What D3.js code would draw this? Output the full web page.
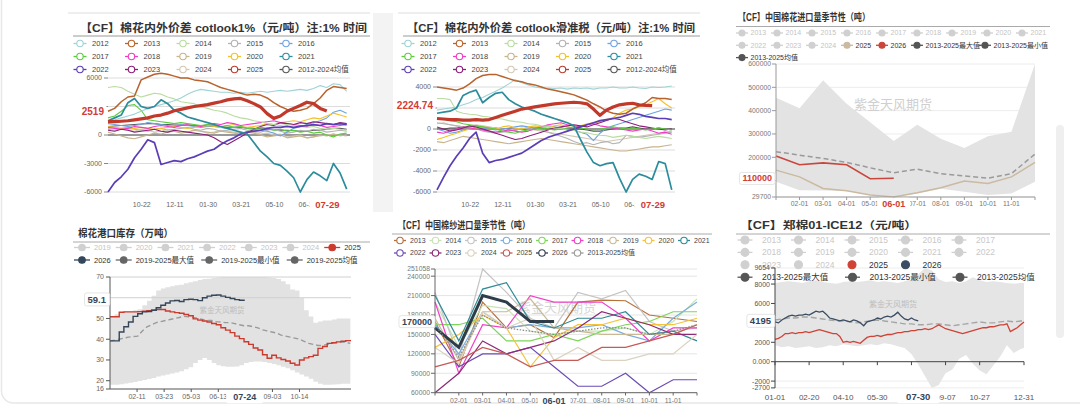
<!DOCTYPE html>
<html>
<head>
<meta charset="utf-8">
<script src="https://cdn.jsdelivr.net/npm/d3@7"></script>
<style>
  body { margin: 0; background: #fff; }
  svg text { font-family: "Liberation Sans", "Noto Sans CJK SC", sans-serif; }
</style>
</head>
<body>
<svg id="chart" width="1080" height="406"></svg>
<script>
// ---------- data: cotton spread (cotlook 1%), cotton year from 09-01 ----------
const spreadDays = [0,10,20,30,40,50,60,70,80,90,100,110,120,130,140,150,160,170,180,190,200,210,220,230,240,250,260,270,280,290,300,310,320,330,340,350,360];
const spreadTickDays = [51,101,151,201,251,301];
const spreadTickLabels = ['10-22','12-11','01-30','03-21','05-10','06-29'];
const spreadLastDay = 331;
const spreadLastLabel = '07-29';
const spreadNames = ['2012','2013','2014','2015','2016','2017','2018','2019','2020','2021','2022','2023','2024','2025','2012-2024均值'];

const a2012 = [1500,1600,1800,2000,2200,2500,2800,3000,3200,3400,3600,3900,4300,4600,4800,4700,4600,4500,4500,4400,4500,4400,4500,4600,4500,4600,4700,4600,4700,4800,4700,4900,5200,5000,5400,5300,4600];
const a2013 = [2500,2800,3500,4000,4100,5800,6100,6400,6500,6400,6200,6000,6000,5800,5700,5600,5300,5000,4800,4600,4400,4200,4300,4200,3900,3400,3000,2700,2500,2600,2800,3300,3900,4700,5100,5000,4900];
const a2014 = [5000,5100,5000,4600,4300,4000,4200,4400,4300,4000,3800,3500,3400,3300,3000,2800,2600,2500,2300,2000,1800,1700,1500,1400,1200,1100,1000,1100,1000,900,800,900,700,600,700,600,500];
const a2015 = [600,500,700,800,600,500,400,600,700,500,600,700,800,600,500,700,600,400,500,600,700,500,400,300,500,600,400,200,300,500,400,600,500,300,400,500,400];
const a2016 = [1200,1100,1000,900,1000,1100,1300,1200,1100,1000,900,1100,1000,900,800,900,1000,800,700,800,900,700,600,500,400,200,-100,300,700,900,1100,1300,1500,1800,2400,2600,2300];
const a2017 = [1800,2000,2500,3100,3200,2600,1600,1500,1400,1300,1200,1300,1200,1100,1000,1100,1000,900,1000,800,900,700,600,800,700,500,600,400,500,300,400,200,300,0,-200,100,200];
const a2018 = [800,700,600,700,900,800,700,900,1000,900,800,1000,1100,1000,900,1100,1200,1100,1300,1200,1000,1100,1200,1300,1400,1500,1300,1200,1100,1000,900,1100,1000,800,900,1000,1100];
const a2019 = [300,100,-100,-300,-400,-200,0,200,100,300,400,200,300,500,400,300,200,400,300,200,100,300,200,0,-200,-100,0,-300,-200,-100,-300,-200,0,-100,100,0,-100];
const a2020 = [900,800,700,600,700,800,700,600,700,800,900,800,700,800,900,1000,900,800,1000,1100,900,800,900,1000,1200,1100,1300,1400,1500,1400,1600,1800,1700,2000,2300,2100,1900];
const a2021 = [1500,1800,2100,3400,3850,3000,2800,3000,3700,3300,2600,2300,1900,1700,1500,1300,1100,900,700,500,300,100,-800,-1700,-2300,-3000,-3200,-3800,-4500,-6000,-4700,-3900,-4300,-4800,-3000,-4000,-5700];
const a2022 = [-6000,-5000,-4400,-3600,-2400,-1500,-500,-800,-3100,-2900,-2700,-2800,-2500,-2300,-2000,-1700,-1500,-1000,-600,-300,100,300,400,500,700,800,800,900,800,900,1000,1100,1000,1200,1100,1200,1100];
const a2023 = [500,400,600,500,300,400,500,600,400,300,500,400,300,200,100,0,-300,-700,-1000,-600,-200,200,600,900,1100,1000,1300,1200,1100,1300,1200,1400,1300,1200,1100,1300,1200];
const a2024 = [700,800,600,500,400,600,500,300,400,600,500,400,300,500,400,200,300,500,400,300,200,400,300,100,200,0,100,-200,-100,0,-300,-200,-100,0,100,-100,0];
const a2025 = [1400,1400,1450,1500,1600,1700,1800,2000,2100,2300,2550,2700,2850,3000,3100,3200,3350,3500,3700,3800,3850,3600,3300,2950,2250,1750,2000,2500,2800,3100,3450,3300,2800,2519];
const aMean = [900,950,1000,1050,1100,1150,1200,1200,1100,1100,1050,1050,1000,1000,950,950,900,850,800,800,800,750,700,650,600,550,500,500,450,400,400,500,500,600,700,700,600];
const aTicks = [-6000,-3000,0,3000,6000];
const aLast = 2519;

// ---------- data: cotton spread (cotlook, sliding tariff) ----------
const b2012 = [1800,1900,2000,2100,2300,2500,2800,3000,3300,3600,3900,4300,4700,4400,4200,4000,3900,3900,3850,3900,3800,3900,3850,3900,3800,3900,3900,4000,3900,3900,4000,3900,3850,4000,3950,4000,4100];
const b2013 = [4000,3900,3800,3700,3900,4300,4800,5100,5200,5200,5000,4800,4600,4500,4300,4200,4000,3800,3700,3550,3400,3250,3000,2750,2400,2100,1700,1500,1400,1500,1900,2200,2500,3000,2900,2900,2800];
const b2014 = [2900,2900,2800,1700,1500,1400,1350,1200,1150,1000,950,800,700,650,500,450,300,250,100,50,-100,-150,-300,-350,-500,-600,-650,-800,-700,-600,-700,-800,-900,-800,-700,-800,-900];
const b2015 = [600,500,400,300,200,100,0,-200,-300,-400,-300,-200,-100,0,100,0,-100,-300,-500,-700,-900,-1200,-1400,-1300,-1500,-1300,-1200,-1400,-1300,-600,-700,-800,-700,-600,-500,-400,-300];
const b2016 = [0,-200,-400,-300,-100,0,200,100,0,-100,0,100,200,300,200,100,200,300,200,100,0,-100,-300,-500,-1100,-400,100,300,500,700,900,1100,1300,1500,1700,1900,1800];
const b2017 = [900,1000,800,700,500,400,300,200,100,0,-200,-300,-400,-200,-100,0,100,0,-100,0,100,200,100,0,-100,0,100,200,100,0,100,0,-100,0,100,0,-100];
const b2018 = [-300,-400,-200,0,200,100,0,-100,-200,-300,-200,-100,-200,-300,-200,0,200,400,500,600,400,300,200,400,500,300,200,100,0,-100,-200,-100,0,-200,-400,-300,-500];
const b2019 = [-1200,-1300,-1100,-900,-700,-800,-900,-1000,-1100,-1200,-1300,-1400,-1300,-1200,-1100,-1000,-900,-1000,-1100,-1200,-1300,-1400,-1500,-1600,-1700,-1800,-1900,-2000,-2100,-2100,-2000,-1900,-1800,-1700,-1700,-1600,-1500];
const b2020 = [-1000,-800,-600,-400,-200,0,100,200,100,0,200,300,100,0,200,300,200,100,300,400,200,100,300,500,600,700,900,1100,1500,1800,1900,2100,2300,2600,2900,2400,2000];
const b2021 = [1500,1600,1700,2000,3200,3500,3700,2500,3000,3400,3500,2800,2400,2100,1900,1700,1400,1200,1000,800,600,300,-1000,-2200,-3200,-3500,-3300,-3200,-4700,-6000,-4800,-4300,-4500,-4800,-3100,-3300,-5800];
const b2022 = [-5800,-4600,-3500,-2600,-1800,-900,-300,-2300,-3200,-3000,-2900,-2700,-2500,-2300,-1900,-1500,-1100,-800,-600,-400,-200,0,200,400,600,800,900,1000,1100,1300,1500,1400,1200,1100,1000,1000,900];
const b2023 = [200,0,-200,-100,100,300,200,0,-200,-400,-600,-800,-1000,-900,-700,-500,-300,-100,100,200,300,400,300,200,400,600,800,1000,900,700,500,300,200,100,0,-100,0];
const b2024 = [500,600,400,300,200,300,400,300,200,100,0,-100,0,100,0,-100,-200,-300,-400,-500,-600,-700,-800,-900,-1000,-1100,-1200,-1100,-1000,-900,-800,-700,-600,-500,-400,-300,-200];
const b2025 = [1000,950,900,900,850,850,900,850,900,1100,1300,1500,1700,1900,2000,2100,2200,2300,2400,2450,2500,2550,2500,2400,1900,1300,1800,2100,2300,2400,2450,2300,2250,2224.74];
const bMean = [0,0,100,100,200,200,300,200,100,100,0,0,-100,0,0,100,100,0,0,100,0,0,0,-100,-200,-200,-100,0,100,100,200,100,0,0,100,0,0];
const bTicks = [-6000,-4000,-2000,0,2000,4000];
const bLast = 2224.74;

// ---------- data: cotton imports by month (t) ----------
const importMonths = ['01-01','02-01','03-01','04-01','05-01','06-01','07-01','08-01','09-01','10-01','11-01','12-01'];
const importMax = [455000,410000,530000,430000,350000,270000,340000,280000,240000,290000,310000,600000];
const importMin = [95000,59000,58000,55000,38000,29700,45000,65000,52000,38000,45000,95000];
const importMean = [224000,209000,195000,178000,155000,133000,149000,130000,120000,110000,130000,214000];
const import2025 = [145000,116000,66000,56000,38000,29700,48000,69000,98000,88000,116000,178000];
const import2026 = [206000,168000,176000,168000,108000,110000];
const importTicks = [29700,100000,200000,300000,400000,500000,600000];
const importLast = 110000;

// ---------- data: port cotton stocks (10k t), weekly ----------
const port2025 = [50.8,50.8,53,53.2,53.2,53.2,53.3,53.5,53.8,54,54.3,54.3,53.6,53.2,52.8,52.5,51.9,51.3,49.8,49.2,48.8,48.3,47.6,47,45.5,44.4,43.2,41.5,40.3,38.8,37.5,35.8,34.8,32.5,30.8,32.3,31,30.2,29.5,28.4,27.6,30,31,31.6,32.3,35.6,36.5,38,38.3,38.7,39,39.3,39.6];
const port2026 = [39.2,39.2,43.5,46,48.3,51,52.3,53.2,53.4,54,55.2,56.4,57.5,58.5,58.7,58.2,59.1,59.3,59.1,58.6,60,60.8,61.2,61.3,60.8,60.2,59.6,59.1,58.8,59.1];
const portMax = [51,52,53.2,53.5,53.5,54,54.5,56.4,58.5,61,63.5,64.5,65,65.5,66,66.3,67,67.5,68,68.5,69,69.2,69.5,69.8,70,70,70,70,70,70,70,70,70,70,69.8,69.5,69,68,66.5,64,63.5,60,54,51,48,48.5,49,49,49.5,50,50,50,50];
const portMin = [18,18,18.3,18.6,19,19.4,19.8,20.3,20.8,21.3,22,22.5,23,23.5,24,24.5,25.5,26.5,28.5,30,31,30,28.5,27.5,27,26.7,26.7,26.8,27.5,28.5,29,29.3,29.2,29,28.5,28,27.5,26.7,26,25,24,23,22,21,19.5,18.5,18,18,18.2,18.3,18.5,18.5,18.5];
const portMean = [39.2,39.5,40,40.5,41,41.3,41.5,44,46,47,48,48.5,49,49.5,50,50.5,51,50.8,50.5,50,49.5,49,49,48.5,48.3,48,48,47.5,47,46.5,46.5,46,45.5,44.5,44,43.5,43,42,41.5,41,40.5,40,39,38,37.5,37,37,37.5,38,38.5,38.7,38.5,38];
const portTicks = [16,20,30,40,50,60,70];
const portTickDays = [41,82,123,164,246,287];
const portTickLabels = ['02-11','03-23','05-03','06-13','09-03','10-14'];
const portLastDay = 204;
const portLastLabel = '07-24';
const portLast = 59.1;

// ---------- data: cotton yarn imports by month (t) ----------
const yarnNames = ['2013','2014','2015','2016','2017','2018','2019','2020','2021','2022','2023','2024','2025','2026','2013-2025均值'];
const y2013 = [170000,100000,200000,160000,165000,145000,200000,203000,202000,180000,175000,170000];
const y2014 = [200000,130000,195000,190000,155000,150000,155000,155000,160000,150000,170000,205000];
const y2015 = [215000,115000,251058,215000,175000,160000,215000,205000,218000,170000,155000,160000];
const y2016 = [165000,120000,185000,160000,165000,160000,160000,165000,150000,140000,175000,200000];
const y2017 = [165000,165000,175000,140000,140000,150000,140000,155000,165000,170000,185000,185000];
const y2018 = [200000,90000,165000,160000,210000,200000,200000,200000,175000,140000,160000,160000];
const y2019 = [175000,110000,185000,185000,205000,160000,155000,150000,150000,150000,150000,165000];
const y2020 = [130000,150000,180000,160000,100000,145000,165000,165000,175000,165000,165000,175000];
const y2021 = [210000,140000,220000,230000,170000,160000,175000,175000,185000,150000,155000,140000];
const y2022 = [150000,100000,120000,120000,130000,100000,70000,70000,90000,60000,80000,80000];
const y2023 = [60000,90000,140000,120000,130000,140000,160000,185000,175000,165000,150000,150000];
const y2024 = [130000,105000,185000,160000,175000,110000,130000,110000,110000,120000,120000,150000];
const y2025 = [100000,110000,130000,120000,100000,110000,110000,130000,130000,140000,150000,165000];
const y2026 = [160000,130000,210000,200000,170000,170000];
const yMean = [165000,115000,180000,160000,155000,150000,155000,160000,160000,150000,155000,165000];
const yarnTicks = [60000,90000,120000,150000,180000,210000,240000,251058];
const yarnLast = 170000;

// ---------- data: ZCE01 - ICE12 spread (yuan/t) ----------
const zm2026 = [4100,4000,4300,4500,4700,4800,4700,4800,4800,4900,4800,5000,5200,5100,5200,4900,4500,4400,4300,4200,4300,4200,4100,4300,4200,4000,3700,4100,4200,4300,4500,4400,4600,4700,4600,4800,5100,4700,4400,4300,4500,4300,4195];
const zm2025 = [2300,2400,2600,2900,2900,3000,2900,3000,3000,3100,3000,3100,3200,3300,3200,3100,3000,2900,2900,2600,2000,2100,2000,2100,2000,1900,2200,2500,2600,2600,2700,2600,2700,2800,2800,2900,3000,3000,3100,3100,3200,3200,3300,3300,3400,3300,3400,3600,3800,3600,3400,3300,3200,3100,3000,2900,3000,3100,3200,3300,3400,3500,3500,3600,3600,3700,3800,3800,3900,3100,3300,3500,3800,4100];
const zmMax = [8100,8200,8300,8200,8100,8300,8400,8200,8100,8000,8200,8300,8200,8300,8400,8200,8300,8200,8100,8300,8500,9000,9654,9400,8500,8200,8300,8100,8300,8700,8400,8200,8300,8200,8100,8000,8100,8100];
const zmMin = [1700,1500,1600,1400,1500,1600,1400,1500,1700,1600,1800,1700,1600,1700,1800,1700,1900,1800,1600,1400,800,-300,-1500,-2700,-2400,-1200,-800,300,700,-200,-900,-1300,-400,500,1700,900,1300,1400];
const zmMean = [4300,4400,4500,4500,4600,4600,4500,4400,4300,4200,4200,4100,4000,4100,4200,4300,4200,4100,4000,3900,3900,3800,3800,3900,3900,3800,3700,3800,3900,4000,4100,4000,4000,4100,4200,4100,4200,4200];
const zmTicks = [-2700,-2000,0,2000,4000,6000,8000,9654];
const zmTickText = ['-2700','-2000','0.000','2000','4000','6000','8000','9654'];
const zmTickDays = [0,50,100,150,200,250,300,365];
const zmTickLabels = ['01-01','02-20','04-10','05-30','07-19','09-07','10-27','12-31'];
const zmLastDay = 210;
const zmLastLabel = '07-30';
const zmLast = 4195;

// ---------- helpers ----------
const svg = d3.select('#chart');
const SERIF = '"Liberation Serif","Noto Sans CJK SC",serif';
const RED = '#d23c33';
const NAVY = '#34465a';

function txt(g, x, y, s, size, fill, anchor, weight) {
  return g.append('text').attr('x', x).attr('y', y).attr('dy', '0.35em')
    .attr('font-size', size).attr('fill', fill)
    .attr('text-anchor', anchor || 'start').attr('font-weight', weight || 'normal').text(s);
}

// bold highlighted label on a white box (covers whatever tick sits under it)
function tag(g, x, y, s, o) {
  const t = txt(g, x, y, s, o.size, o.color, o.anchor, 'bold');
  const b = t.node().getBBox();
  g.insert('rect', () => t.node())
    .attr('x', b.x - o.padX).attr('y', b.y - 1)
    .attr('width', b.width + 2 * o.padX).attr('height', b.height + 2)
    .attr('rx', 2).attr('fill', '#fff').attr('stroke', o.border || 'none');
}

function hline(g, x1, x2, y, color, w) {
  g.append('line').attr('x1', x1).attr('x2', x2).attr('y1', y).attr('y2', y)
    .attr('stroke', color).attr('stroke-width', w || 1);
}

function title(g, x, y, s, size, len) {
  g.append('text').attr('x', x).attr('y', y).attr('font-size', size)
    .attr('font-weight', 'bold').attr('font-family', SERIF).attr('fill', '#333')
    .attr('textLength', len).attr('lengthAdjust', 'spacingAndGlyphs').text(s);
}

function legend(g, rows, x0, y0, rowH, o) {
  rows.forEach((row, r) => {
    let x = x0;
    const y = y0 + r * rowH;
    row.forEach(name => {
      const s = o.style(name);
      if (s.line !== false) {
        g.append('line').attr('x1', x - o.half).attr('x2', x + o.half)
          .attr('y1', y).attr('y2', y).attr('stroke', s.color).attr('stroke-width', 1.3);
      }
      g.append('circle').attr('cx', x).attr('cy', y).attr('r', o.r)
        .attr('fill', o.hollow ? '#fff' : s.color).attr('stroke', s.color).attr('stroke-width', 1.1);
      txt(g, x + o.gap, y, name, o.size, s.text);
      x += o.width(name);
    });
  });
}

function watermark(g, x, y, size, color) {
  txt(g, x, y, '紫金天风期货', size, color, 'middle');
}

// ---------- page frame ----------
svg.append('rect').attr('x', 1.5).attr('y', -30).attr('width', 1200).attr('height', 433)
  .attr('rx', 12).attr('fill', 'none').attr('stroke', '#e8e8e8').attr('stroke-width', 1.5);
svg.append('rect').attr('x', 373).attr('y', 13).attr('width', 20).attr('height', 199).attr('fill', '#f3f3f3');
svg.append('rect').attr('x', 1056).attr('y', 125).attr('width', 8).attr('height', 213).attr('rx', 4).attr('fill', '#efefef');

// ---------- spread panels (top-left, top-middle) ----------
const spreadColors = {
  '2012': '#9fd3d6', '2013': '#b8632d', '2014': '#b9dca0', '2015': '#b3b3b3', '2016': '#6fa3e0',
  '2017': '#5ccc3c', '2018': '#f03cc8', '2019': '#c8b48c', '2020': '#f3c12a', '2021': '#2b8c9c',
  '2022': '#5b3db5', '2023': '#8b2079', '2024': '#d3c8b4', '2025': '#c0392b', '2012-2024均值': '#555'
};
const spreadWidths = { '2013': 1.5, '2021': 1.7, '2022': 1.7, '2025': 3.2 };
const spreadOrder = ['2012-2024均值','2024','2015','2019','2016','2020','2018','2023','2017','2014','2012','2013','2022','2021','2025'];

function drawSpread(box, series, ticks, lastVal, ttl) {
  const g = svg.append('g');
  hline(g, box.left, box.left + 302, 13, '#eeeeee', 2);
  title(g, box.tx, 32, ttl, 11.5, box.tlen);
  hline(g, box.left + 5, box.left + 302, 36, '#9a9a9a', 1);
  legend(g, [spreadNames.slice(0, 5), spreadNames.slice(5, 10), spreadNames.slice(10)],
    box.lx, 43.5, 13, {
      style: n => ({ color: spreadColors[n], text: '#444' }),
      half: 6.5, r: 3.2, gap: 12, size: 7.5, hollow: true, width: () => 51.5
    });

  const x = d3.scaleLinear().domain([0, 365]).range([box.x0, box.x1]);
  const y = d3.scaleLinear().domain(box.yDomain).range([192, box.yTop]);

  ticks.forEach(v => {
    hline(g, box.x0, box.x1, y(v), v === 0 ? '#777' : '#dcdcdc', v === 0 ? 1.3 : 1);
    hline(g, box.x0 - 4, box.x0, y(v), '#888', 1);
    if (Math.abs(y(v) - y(lastVal)) > 8) txt(g, box.x0 - 6, y(v), v, 7, '#666', 'end');
  });

  const line = d3.line().x((d, i) => x(spreadDays[i])).y(d => y(d));
  spreadOrder.forEach(n => {
    g.append('path').datum(series[n]).attr('d', line).attr('fill', 'none')
      .attr('stroke', spreadColors[n]).attr('stroke-width', spreadWidths[n] || 1.1)
      .attr('stroke-linejoin', 'round');
  });

  spreadTickDays.forEach((d, i) => txt(g, x(d), 205, spreadTickLabels[i], 7, '#666', 'middle'));
  tag(g, x(spreadLastDay), 205, spreadLastLabel, { size: 9.5, color: RED, anchor: 'middle', padX: 6 });
  tag(g, box.x0 - 4, y(lastVal), String(lastVal), { size: 10, color: RED, anchor: 'end', padX: 2 });
}

drawSpread({ left: 68, tx: 80, tlen: 287, lx: 80, x0: 108, x1: 350, yDomain: [-6000, 6600], yTop: 72.3 },
  { '2012': a2012, '2013': a2013, '2014': a2014, '2015': a2015, '2016': a2016, '2017': a2017, '2018': a2018,
    '2019': a2019, '2020': a2020, '2021': a2021, '2022': a2022, '2023': a2023, '2024': a2024, '2025': a2025,
    '2012-2024均值': aMean },
  aTicks, aLast, '【CF】棉花内外价差 cotlook1%（元/吨）注:1%  时间');

drawSpread({ left: 398, tx: 407, tlen: 288, lx: 408, x0: 437, x1: 675, yDomain: [-6000, 5300], yTop: 73.35 },
  { '2012': b2012, '2013': b2013, '2014': b2014, '2015': b2015, '2016': b2016, '2017': b2017, '2018': b2018,
    '2019': b2019, '2020': b2020, '2021': b2021, '2022': b2022, '2023': b2023, '2024': b2024, '2025': b2025,
    '2012-2024均值': bMean },
  bTicks, bLast, '【CF】棉花内外价差 cotlook滑准税（元/吨）注:1%  时间');

// ---------- cotton imports (top-right) ----------
(function () {
  const g = svg.append('g');
  title(g, 738, 21, '【CF】中国棉花进口量季节性（吨）', 10, 132);
  hline(g, 736, 1050, 26.5, '#aaa', 1);
  const grey = ['2013','2014','2015','2016','2017','2018','2019','2020','2021','2022','2023','2024'];
  legend(g, [grey.slice(0, 9), grey.slice(9).concat(['2025', '2026', '2013-2025最大值', '2013-2025最小值']), ['2013-2025均值']],
    742, 33, 12.3, {
      style: n => grey.includes(n) ? { color: '#d0d0d0', text: '#c4c4c4' }
        : n === '2025' ? { color: '#cbb9a0', text: '#333' }
        : n === '2026' ? { color: '#c9463d', text: '#333' }
        : { color: '#555', text: '#333' },
      half: 6, r: 3, gap: 8.5, size: 7, hollow: false,
      width: n => n.length > 4 ? 68 : 35
    });

  const x = d3.scaleLinear().domain([0, 11]).range([776, 1035]);
  const y = d3.scaleLinear().domain([29700, 600000]).range([197, 64]);

  importTicks.forEach(v => hline(g, 776, 1035, y(v), '#ececec', 1));
  const area = d3.area().x((d, i) => x(i)).y0((d, i) => y(importMin[i])).y1(d => y(d));
  g.append('path').datum(importMax).attr('d', area).attr('fill', '#e3e3e3');
  watermark(g, 893, 104, 13, '#cfcfcf');

  const line = d3.line().x((d, i) => x(i)).y(d => y(d));
  g.append('path').datum(importMean).attr('d', line).attr('fill', 'none')
    .attr('stroke', '#9a9a9a').attr('stroke-width', 1.5).attr('stroke-dasharray', '5,3');
  g.append('path').datum(import2025).attr('d', line).attr('fill', 'none')
    .attr('stroke', '#cbb9a0').attr('stroke-width', 1.5);
  g.append('path').datum(import2026).attr('d', line).attr('fill', 'none')
    .attr('stroke', '#c9463d').attr('stroke-width', 1.6);

  hline(g, 776, 1035, 197, '#999', 1);
  g.append('line').attr('x1', 776).attr('x2', 776).attr('y1', 64).attr('y2', 197).attr('stroke', '#999');
  importTicks.forEach(v => {
    hline(g, 772, 776, y(v), '#999', 1);
    if (Math.abs(y(v) - y(importLast)) > 5) txt(g, 771, y(v), v, 6.8, '#777', 'end');
  });
  importMonths.forEach((m, i) => {
    g.append('line').attr('x1', x(i)).attr('x2', x(i)).attr('y1', 197).attr('y2', 200).attr('stroke', '#999');
    if (i > 0 && i < 11 && i !== 5) txt(g, x(i), 203.5, m, 6.8, '#777', 'middle');
  });
  tag(g, x(5), 203.5, importMonths[5], { size: 9, color: RED, anchor: 'middle', padX: 5 });
  tag(g, 772, y(importLast), String(importLast), { size: 9, color: RED, anchor: 'end', padX: 3, border: '#e5e5e5' });
})();

// ---------- port stocks (bottom-left) ----------
(function () {
  const g = svg.append('g');
  title(g, 78, 237, '棉花港口库存（万吨）', 10.5, 95);
  hline(g, 73, 370, 242, '#aaa', 1);
  const grey = ['2019','2020','2021','2022','2023','2024'];
  legend(g, [grey.concat(['2025']), ['2026', '2019-2025最大值', '2019-2025最小值', '2019-2025均值']],
    82, 247.5, 12.5, {
      style: n => grey.includes(n) ? { color: '#d0d0d0', text: '#c4c4c4' }
        : n === '2025' ? { color: '#cc3a2e', text: '#333' }
        : n === '2026' ? { color: NAVY, text: '#333' }
        : { color: '#666', text: '#333' },
      half: 8, r: 3.3, gap: 12, size: 7.5, hollow: false,
      width: n => n.length > 4 ? 85.5 : 41.7
    });

  const x = d3.scaleLinear().domain([0, 365]).range([110, 351]);
  const y = d3.scaleLinear().domain([16, 70]).range([389, 277]);
  const wx = (d, i) => x(Math.min(i * 7, 365));

  const area = d3.area().x(wx).y0((d, i) => y(portMin[i])).y1(d => y(d)).curve(d3.curveStepAfter);
  g.append('path').datum(portMax).attr('d', area).attr('fill', '#e2e2e2');
  [60, 70].forEach(v => hline(g, 110, 351, y(v), '#d0d0d0', 1));
  watermark(g, 222, 310, 7.5, '#bdbdbd');

  g.append('path').datum(portMean).attr('d', d3.line().x(wx).y(d => y(d)))
    .attr('fill', 'none').attr('stroke', '#9a9a9a').attr('stroke-width', 1.4).attr('stroke-dasharray', '5,3');
  const step = d3.line().x(wx).y(d => y(d)).curve(d3.curveStepAfter);
  g.append('path').datum(port2025).attr('d', step).attr('fill', 'none').attr('stroke', '#cc3a2e').attr('stroke-width', 1.4);
  g.append('path').datum(port2026).attr('d', step).attr('fill', 'none').attr('stroke', NAVY).attr('stroke-width', 1.4);

  g.append('line').attr('x1', 110).attr('x2', 110).attr('y1', 277).attr('y2', 389).attr('stroke', '#555');
  hline(g, 110, 351, 389, '#555', 1);
  portTicks.forEach(v => {
    hline(g, 106, 110, y(v), '#555', 1);
    if (Math.abs(y(v) - y(portLast)) > 5) txt(g, 104, y(v), v, 7, '#666', 'end');
  });
  portTickDays.forEach((d, i) => {
    g.append('line').attr('x1', x(d)).attr('x2', x(d)).attr('y1', 389).attr('y2', 392).attr('stroke', '#555');
    txt(g, x(d), 397, portTickLabels[i], 7, '#666', 'middle');
  });
  tag(g, x(portLastDay), 397, portLastLabel, { size: 9, color: NAVY, anchor: 'middle', padX: 7 });
  tag(g, 106, y(portLast), String(portLast), { size: 9.5, color: NAVY, anchor: 'end', padX: 3, border: '#e5e5e5' });
})();

// ---------- cotton yarn imports (bottom-middle) ----------
(function () {
  const g = svg.append('g');
  const colors = {
    '2013': '#b5703a', '2014': '#c7e3b4', '2015': '#c4c4c4', '2016': '#7aaee0', '2017': '#7dd65a',
    '2018': '#f040c8', '2019': '#c9b994', '2020': '#f5c33b', '2021': '#2f8a96', '2022': '#6b4bb5',
    '2023': '#8c2a78', '2024': '#dbd2c0', '2025': '#c65a55', '2026': '#2f3d4a', '2013-2025均值': '#999'
  };
  const series = {
    '2013': y2013, '2014': y2014, '2015': y2015, '2016': y2016, '2017': y2017, '2018': y2018, '2019': y2019,
    '2020': y2020, '2021': y2021, '2022': y2022, '2023': y2023, '2024': y2024, '2025': y2025, '2026': y2026,
    '2013-2025均值': yMean
  };
  title(g, 398, 229, '【CF】中国棉纱进口量季节性（吨）', 10, 132);
  hline(g, 392, 712, 234, '#aaa', 1);
  legend(g, [yarnNames.slice(0, 9), yarnNames.slice(9)], 400, 240.5, 12.5, {
    style: n => ({ color: colors[n], text: '#444' }),
    half: 6, r: 3.2, gap: 10, size: 7, hollow: true, width: () => 35.5
  });

  const x = d3.scaleLinear().domain([0, 11]).range([435, 697]);
  const y = d3.scaleLinear().domain([60000, 251058]).range([392.7, 269]);
  yarnTicks.forEach(v => hline(g, 435, 697, y(v), '#e4e4e4', 1));
  watermark(g, 557, 307, 13, '#d5d5d5');

  const line = d3.line().x((d, i) => x(i)).y(d => y(d));
  yarnNames.forEach(n => {
    const p = g.append('path').datum(series[n]).attr('d', line).attr('fill', 'none')
      .attr('stroke', colors[n]).attr('stroke-width', n === '2026' ? 3 : 1.2);
    if (n === '2013-2025均值') p.attr('stroke-dasharray', '1.5,1.5').attr('stroke', '#888');
  });

  g.append('line').attr('x1', 435).attr('x2', 435).attr('y1', 269).attr('y2', 392.7).attr('stroke', '#666');
  hline(g, 435, 697, 392.7, '#666', 1);
  yarnTicks.forEach(v => {
    hline(g, 431, 435, y(v), '#666', 1);
    if (Math.abs(y(v) - y(yarnLast)) > 5) txt(g, 430, y(v), v, 6.8, '#777', 'end');
  });
  importMonths.forEach((m, i) => {
    g.append('line').attr('x1', x(i)).attr('x2', x(i)).attr('y1', 392.7).attr('y2', 395.5).attr('stroke', '#666');
    if (i > 0 && i < 11 && i !== 5) txt(g, x(i), 401, m, 6.8, '#777', 'middle');
  });
  tag(g, x(5), 401, importMonths[5], { size: 9, color: NAVY, anchor: 'middle', padX: 5 });
  tag(g, 432, y(yarnLast), String(yarnLast), { size: 9, color: NAVY, anchor: 'end', padX: 3, border: '#e5e5e5' });
})();

// ---------- ZCE01 - ICE12 (bottom-right) ----------
(function () {
  const g = svg.append('g');
  title(g, 740, 229, '【CF】郑棉01-ICE12（元/吨）', 10.5, 177);
  hline(g, 736, 1050, 234, '#aaa', 1);

  const x = d3.scaleLinear().domain([0, 365]).range([775, 1024]);
  const y = d3.scaleLinear().domain([-2700, 9654]).range([387.9, 268]);

  zmTicks.forEach(v => hline(g, 775, 1024, y(v), '#ececec', 1));
  const bx = (d, i) => x(Math.min(i * 10, 365));
  const area = d3.area().x(bx).y0((d, i) => y(zmMin[i])).y1(d => y(d));
  g.append('path').datum(zmMax).attr('d', area).attr('fill', '#e5e5e5');
  watermark(g, 893, 304, 8, '#bdbdbd');

  g.append('path').datum(zmMean).attr('d', d3.line().x(bx).y(d => y(d)))
    .attr('fill', 'none').attr('stroke', '#a5a5a5').attr('stroke-width', 1.4).attr('stroke-dasharray', '6,3');
  const line5 = d3.line().x((d, i) => x(Math.min(i * 5, 365))).y(d => y(d));
  g.append('path').datum(zm2025).attr('d', line5).attr('fill', 'none').attr('stroke', '#cf4236').attr('stroke-width', 1.3);
  g.append('path').datum(zm2026).attr('d', line5).attr('fill', 'none').attr('stroke', '#3b4d63').attr('stroke-width', 1.3);

  // legend drawn over the plot top, like the original
  const grey = ['2013','2014','2015','2016','2017','2018','2019','2020','2021','2022','2023','2024'];
  legend(g, [grey.slice(0, 5), grey.slice(5, 10)], 745, 240, 12.4, {
    style: () => ({ color: '#d0d0d0', text: '#c8c8c8' }),
    half: 7.5, r: 4, gap: 17, size: 8.5, hollow: false, width: () => 53.5
  });
  legend(g, [['2023', '2024', '2025', '2026']], 745, 264.8, 12.4, {
    style: n => n === '2025' ? { color: '#cf4236', text: '#333', line: false }
      : n === '2026' ? { color: '#3b4d63', text: '#333', line: false }
      : { color: '#d0d0d0', text: '#c8c8c8', line: false },
    half: 7.5, r: 4, gap: 17, size: 8.5, hollow: false, width: () => 53.5
  });
  legend(g, [['2013-2025最大值', '2013-2025最小值', '2013-2025均值']], 745, 277.2, 12.4, {
    style: () => ({ color: '#555', text: '#333' }),
    half: 7.5, r: 4, gap: 17, size: 8.5, hollow: false, width: () => 107.5
  });

  g.append('line').attr('x1', 775).attr('x2', 775).attr('y1', 268).attr('y2', 388).attr('stroke', '#444');
  hline(g, 775, 1024, y(0), '#444', 1);
  zmTicks.forEach((v, i) => {
    hline(g, 771, 775, y(v), '#444', 1);
    if (Math.abs(y(v) - y(zmLast)) > 5) txt(g, 770, y(v), zmTickText[i], 7, '#555', 'end');
  });
  zmTickDays.forEach((d, i) => {
    g.append('line').attr('x1', x(d)).attr('x2', x(d)).attr('y1', y(0)).attr('y2', y(0) + 3.5).attr('stroke', '#444');
    if (Math.abs(x(d) - x(zmLastDay)) > 20) txt(g, x(d), 397, zmTickLabels[i], 8, '#555', 'middle');
  });
  tag(g, x(zmLastDay), 397, zmLastLabel, { size: 9.5, color: NAVY, anchor: 'middle', padX: 9 });
  tag(g, 771, y(zmLast), String(zmLast), { size: 9.5, color: NAVY, anchor: 'end', padX: 3, border: '#e5e5e5' });
})();
</script>
</body>
</html>
